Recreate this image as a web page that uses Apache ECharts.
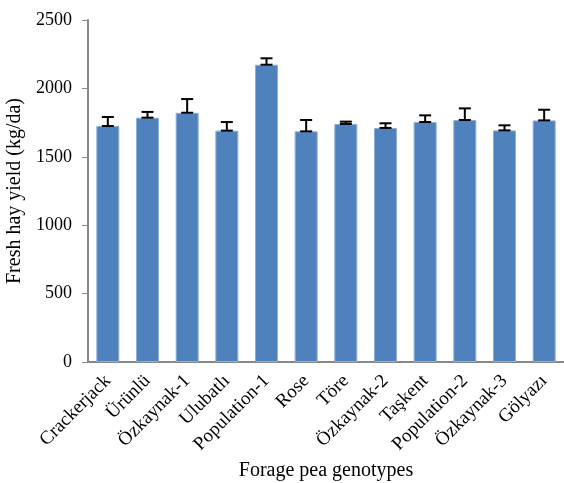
<!DOCTYPE html>
<html>
<head>
<meta charset="utf-8">
<script src="https://cdn.jsdelivr.net/npm/echarts@6/dist/echarts.min.js"></script>
<style>
    html, body { margin: 0; padding: 0; background: #fff; }
    #chart { width: 564px; height: 483px; }
</style>
</head>
<body>
<div id="chart"></div>
<script>
// genotypes and yield (kg/da) with standard error
var genotypes = ['Crackerjack', 'Ürünlü', 'Özkaynak-1', 'Ulubatlı', 'Population-1', 'Rose', 'Töre', 'Özkaynak-2', 'Taşkent', 'Population-2', 'Özkaynak-3', 'Gölyazı'];
var yieldValues = [1725, 1786, 1822, 1691, 2173, 1686, 1740, 1711, 1754, 1769, 1693, 1766];
var errValues = [66, 42, 100, 63, 47, 83, 17, 34, 49, 85, 37, 78];

var chart = echarts.init(document.getElementById('chart'));
var font = 'Liberation Serif, Times New Roman, serif';

var errData = yieldValues.map(function (v, i) {
    return [i, v, errValues[i]];
});

var option = {
    animation: false,
    textStyle: { fontFamily: font },
    grid: { left: 88, right: 0, top: 20, bottom: 121, containLabel: false, outerBoundsMode: 'none' },
    xAxis: {
        type: 'category',
        data: genotypes,
        name: 'Forage pea genotypes',
        nameLocation: 'middle',
        nameGap: 98,
        nameTextStyle: { fontFamily: font, fontSize: 20, color: '#000' },
        axisLine: { lineStyle: { color: '#888', width: 2 } },
        axisTick: { show: false },
        axisLabel: { rotate: 45, margin: 16, fontFamily: font, fontSize: 19, color: '#000' }
    },
    yAxis: {
        type: 'value',
        min: 0,
        max: 2500,
        interval: 500,
        name: 'Fresh hay yield (kg/da)',
        nameLocation: 'middle',
        nameGap: 61,
        nameTextStyle: { fontFamily: font, fontSize: 20, color: '#000' },
        axisLine: { show: true, lineStyle: { color: '#888', width: 2 } },
        axisTick: { show: true, length: 6, lineStyle: { color: '#888' } },
        axisLabel: {
            margin: 16, fontFamily: font, fontSize: 18, color: '#000',
            formatter: function (v) { return String(v); }
        },
        splitLine: { show: false }
    },
    series: [
        {
            type: 'bar',
            data: yieldValues,
            barWidth: '58%',
            itemStyle: { color: '#4F81BD', borderColor: '#8FAFD8', borderWidth: 1 }
        },
        {
            type: 'custom',
            data: errData,
            z: 5,
            renderItem: function (params, api) {
                var i = api.value(0);
                var v = api.value(1);
                var e = api.value(2);
                var lo = api.coord([i, v]);
                var hi = api.coord([i, v + e]);
                var hw = 6;
                var style = { stroke: '#000', lineWidth: 2 };
                return {
                    type: 'group',
                    children: [
                        { type: 'line', shape: { x1: lo[0], y1: lo[1], x2: hi[0], y2: hi[1] }, style: style },
                        { type: 'line', shape: { x1: hi[0] - hw, y1: hi[1], x2: hi[0] + hw, y2: hi[1] }, style: style },
                        { type: 'line', shape: { x1: lo[0] - hw, y1: lo[1], x2: lo[0] + hw, y2: lo[1] }, style: style }
                    ]
                };
            }
        }
    ]
};
chart.setOption(option);
</script>
</body>
</html>
